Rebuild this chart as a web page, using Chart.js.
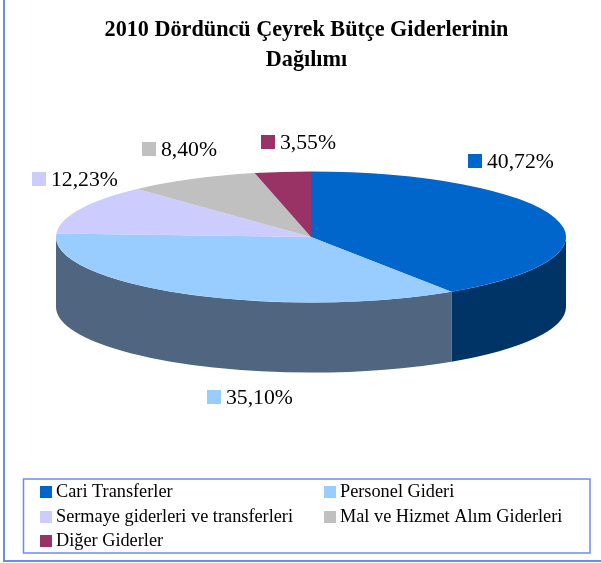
<!DOCTYPE html>
<html lang="tr">
<head>
<meta charset="utf-8">
<style>
html,body{margin:0;padding:0;background:#fff}
#wrap{position:absolute;left:0;top:0;width:601px;height:563px}
</style>
<script src="https://cdn.jsdelivr.net/npm/chart.js@4"></script>
</head>
<body>
<div id="wrap"><canvas id="c" width="601" height="563"></canvas></div>
<script>
const categories = ['Cari Transferler','Personel Gideri','Sermaye giderleri ve transferleri','Mal ve Hizmet Alım Giderleri','Diğer Giderler'];
const shares = [40.72,35.10,12.23,8.40,3.55];
const titleLines = ['2010 Dördüncü Çeyrek Bütçe Giderlerinin','Dağılımı'];
const topColors = ['#0066CC','#99CCFF','#CCCCFF','#C0C0C0','#993366'];
const sideColors = ['#003366','#4F6580','#66668A','#737373','#5C1F3D'];

const FONT = '"Liberation Serif","Times New Roman",serif';
const FRAME = '#6A8CF0';
const PIE = {shiftX:4.5, squash:65.5/255, depth:70};
const labelSpots = [[468,154],[207,390],[32,172],[142,142],[261,135]];
const legendSpots = [[40,486],[324,486],[40,511],[324,511],[40,535]];

const pie3d = {
  id:'pie3d',
  beforeDraw(chart){
    const c = chart.ctx;
    c.save();
    c.fillStyle = FRAME;
    c.fillRect(3,0,2,562);
    c.fillRect(3,560,598,2);
    c.restore();
  },
  beforeDatasetsDraw(chart){
    const c = chart.ctx, arcs = chart.getDatasetMeta(0).data;
    c.save();
    arcs.forEach((a,i)=>{
      const s = Math.max(a.startAngle,0), e = Math.min(a.endAngle,Math.PI);
      if (e <= s) return;
      const rx = a.outerRadius, ry = rx*PIE.squash, x = a.x+PIE.shiftX, y = a.y;
      c.beginPath();
      c.ellipse(x,y,rx,ry,0,s,e,false);
      c.ellipse(x,y+PIE.depth,rx,ry,0,e,s,true);
      c.closePath();
      c.fillStyle = sideColors[i];
      c.fill();
    });
    const a0 = arcs[0];
    c.restore();
    c.save();
    c.translate(a0.x+PIE.shiftX,a0.y);
    c.scale(1,PIE.squash);
    c.translate(-a0.x,-a0.y);
  },
  afterDatasetsDraw(chart){
    const c = chart.ctx;
    c.restore();
    c.save();
    c.textBaseline = 'alphabetic';
    c.textAlign = 'left';
    c.fillStyle = '#000';
    c.font = '21.7px '+FONT;
    shares.forEach((v,i)=>{
      const [x,y] = labelSpots[i];
      c.fillStyle = topColors[i];
      c.fillRect(x,y,14,14);
      c.fillStyle = '#000';
      c.fillText(v.toFixed(2).replace('.',',')+'%',x+19,y+14);
    });
    c.strokeStyle = FRAME;
    c.lineWidth = 1.5;
    c.strokeRect(23.5,479,566.5,74);
    c.font = '18.3px '+FONT;
    categories.forEach((t,i)=>{
      const [x,y] = legendSpots[i];
      c.fillStyle = topColors[i];
      c.fillRect(x,y,12,12);
      c.fillStyle = '#000';
      c.fillText(t,x+16,y+11);
    });
    c.restore();
  }
};

new Chart(document.getElementById('c'),{
  type:'pie',
  data:{labels:categories,datasets:[{data:shares,backgroundColor:topColors,borderWidth:0,clip:false,hoverOffset:0}]},
  options:{
    responsive:false,
    animation:false,
    radius:255,
    layout:{padding:{left:12,right:0,top:0,bottom:169}},
    plugins:{
      legend:{display:false},
      tooltip:{enabled:false},
      title:{display:true,text:titleLines,color:'#000',
        font:{family:FONT,size:22.2,weight:'bold',lineHeight:1.35},
        padding:{top:15,bottom:5}}
    }
  },
  plugins:[pie3d]
});
</script>
</body>
</html>
